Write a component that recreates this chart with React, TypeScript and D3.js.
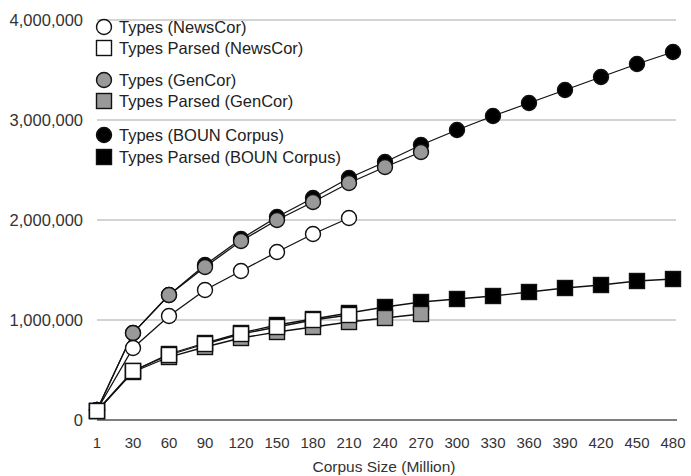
import * as d3 from "d3";

const corpusSizes = ["1", "30", "60", "90", "120", "150", "180", "210", "240", "270", "300", "330", "360", "390", "420", "450", "480"];
const yTicks = [0, 1000000, 2000000, 3000000, 4000000];

// values (types, in raw counts)
const bounTypes = [100000, 870000, 1250000, 1550000, 1810000, 2030000, 2220000, 2420000, 2580000, 2750000, 2900000, 3040000, 3170000, 3300000, 3430000, 3560000, 3680000];
const bounParsed = [90000, 490000, 660000, 770000, 870000, 950000, 1010000, 1070000, 1130000, 1180000, 1210000, 1240000, 1280000, 1320000, 1350000, 1390000, 1410000];
const genTypes = [100000, 870000, 1250000, 1530000, 1790000, 2000000, 2180000, 2370000, 2530000, 2680000];
const genParsed = [90000, 480000, 630000, 730000, 820000, 880000, 930000, 980000, 1020000, 1060000];
const newsTypes = [100000, 720000, 1040000, 1300000, 1490000, 1680000, 1860000, 2020000];
const newsParsed = [90000, 490000, 650000, 760000, 860000, 930000, 1000000, 1050000];

type Series = { name: string; values: number[]; shape: "circle" | "square"; fill: string };

const series: Series[] = [
  { name: "Types (NewsCor)", values: newsTypes, shape: "circle", fill: "#fff" },
  { name: "Types Parsed (NewsCor)", values: newsParsed, shape: "square", fill: "#fff" },
  { name: "Types (GenCor)", values: genTypes, shape: "circle", fill: "#999" },
  { name: "Types Parsed (GenCor)", values: genParsed, shape: "square", fill: "#999" },
  { name: "Types (BOUN Corpus)", values: bounTypes, shape: "circle", fill: "#000" },
  { name: "Types Parsed (BOUN Corpus)", values: bounParsed, shape: "square", fill: "#000" },
];

const W = 691;
const H = 476;
const font = "'Liberation Sans', Arial, sans-serif";

const Marker = ({ s, x, y }: { s: Series; x: number; y: number }) =>
  s.shape === "circle" ? (
    <circle cx={x} cy={y} r={7.5} fill={s.fill} stroke="#111" strokeWidth={1.4} />
  ) : (
    <rect x={x - 7.5} y={y - 7.5} width={15} height={15} fill={s.fill} stroke="#111" strokeWidth={1.4} />
  );

export default function App() {
  const x = d3.scalePoint<string>().domain(corpusSizes).range([97, 673]);
  const y = d3.scaleLinear().domain([0, 4000000]).range([420, 20]);
  const fmt = d3.format(",");
  const line = d3
    .line<number>()
    .x((_, i) => x(corpusSizes[i]) as number)
    .y((d) => y(d));

  // draw BOUN first, then GenCor, then NewsCor on top
  const drawOrder = [4, 5, 2, 3, 0, 1].map((i) => series[i]);
  const legendY = [27, 48, 80, 101, 135, 157];

  return (
    <svg width={W} height={H} style={{ position: "absolute", left: 0, top: 0 }} fontFamily={font}>
      <rect width={W} height={H} fill="#fff" />
      {yTicks.slice(1).map((t) => (
        <line key={t} x1={97} x2={676} y1={y(t)} y2={y(t)} stroke="#c4c4c4" strokeWidth={1.3} />
      ))}
      <line x1={97} x2={677} y1={y(0)} y2={y(0)} stroke="#555" strokeWidth={1.6} />
      {yTicks.map((t) => (
        <text key={t} x={83} y={y(t)} dy="0.35em" textAnchor="end" fontSize={16.5} fill="#333">
          {fmt(t)}
        </text>
      ))}
      {corpusSizes.map((c) => (
        <text key={c} x={x(c)} y={443} dy="0.35em" textAnchor="middle" fontSize={15} fill="#333">
          {c}
        </text>
      ))}
      <text x={384} y={467} dy="0.35em" textAnchor="middle" fontSize={15.5} fill="#333">
        Corpus Size (Million)
      </text>
      {drawOrder.map((s) => (
        <g key={s.name}>
          <path d={line(s.values) ?? ""} fill="none" stroke="#111" strokeWidth={1.3} />
          {s.values.map((v, i) => (
            <Marker key={i} s={s} x={x(corpusSizes[i]) as number} y={y(v)} />
          ))}
        </g>
      ))}
      {series.map((s, i) => (
        <g key={s.name}>
          <Marker s={s} x={104} y={legendY[i]} />
          <text x={119} y={legendY[i]} dy="0.35em" fontSize={16.5} fill="#222">
            {s.name}
          </text>
        </g>
      ))}
    </svg>
  );
}
